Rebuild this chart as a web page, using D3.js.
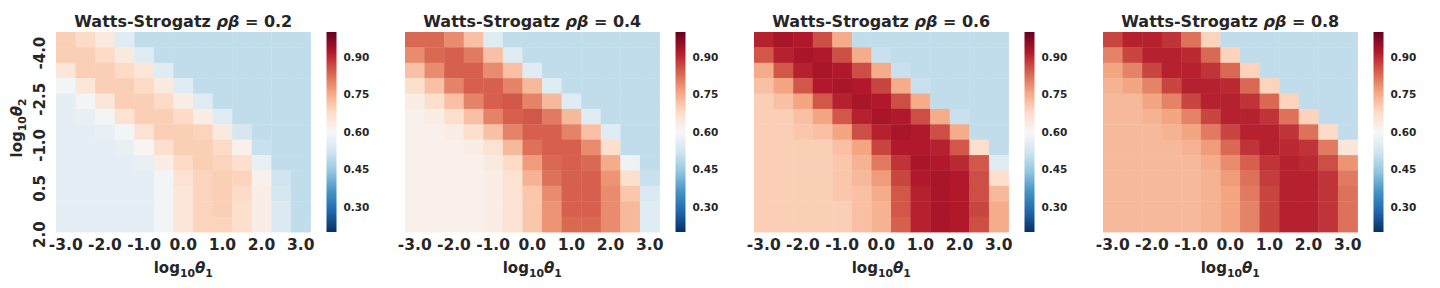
<!DOCTYPE html>
<html>
<head>
<meta charset="utf-8">
<script src="https://cdn.jsdelivr.net/npm/d3@7"></script>
<style>
  body { margin: 0; background: #fff; }
  svg { font-family: "DejaVu Sans", sans-serif; font-weight: bold; }
</style>
</head>
<body>
<svg id="chart" width="1440" height="288"></svg>
<script>
// grid axes (log10 theta1 along x, log10 theta2 down y)
const theta1 = [-3.0, -2.5, -2.0, -1.5, -1.0, -0.5, 0.0, 0.5, 1.0, 1.5, 2.0, 2.5, 3.0];
const theta2 = [-4.0, -3.5, -3.0, -2.5, -2.0, -1.5, -1.0, -0.5, 0.0, 0.5, 1.0, 1.5, 2.0];
const xTickLabels = [-3.0, -2.0, -1.0, 0.0, 1.0, 2.0, 3.0];
const yTickLabels = [-4.0, -2.5, -1.0, 0.5, 2.0];
const cbarTicks = [0.30, 0.45, 0.60, 0.75, 0.90];
const rhoBeta = ["0.2", "0.4", "0.6", "0.8"];

// rows = theta2, cols = theta1
const acc02 = [
  [0.70,0.68,0.64,0.55,0.50,0.50,0.50,0.50,0.50,0.50,0.50,0.50,0.50],
  [0.70,0.70,0.68,0.64,0.55,0.50,0.50,0.50,0.50,0.50,0.50,0.50,0.50],
  [0.65,0.70,0.70,0.68,0.65,0.55,0.50,0.50,0.50,0.50,0.50,0.50,0.50],
  [0.59,0.65,0.70,0.70,0.68,0.64,0.55,0.50,0.50,0.50,0.50,0.50,0.50],
  [0.56,0.59,0.65,0.70,0.70,0.68,0.63,0.55,0.50,0.50,0.50,0.50,0.50],
  [0.56,0.57,0.59,0.66,0.70,0.70,0.68,0.63,0.55,0.50,0.50,0.50,0.50],
  [0.56,0.56,0.57,0.59,0.66,0.70,0.70,0.69,0.64,0.53,0.50,0.50,0.50],
  [0.56,0.56,0.56,0.57,0.61,0.67,0.70,0.70,0.68,0.62,0.51,0.50,0.50],
  [0.56,0.56,0.56,0.56,0.57,0.63,0.68,0.70,0.69,0.67,0.57,0.50,0.50],
  [0.56,0.56,0.56,0.56,0.56,0.59,0.66,0.69,0.70,0.69,0.62,0.52,0.50],
  [0.56,0.56,0.56,0.56,0.56,0.59,0.65,0.69,0.70,0.68,0.63,0.53,0.50],
  [0.56,0.56,0.56,0.56,0.56,0.59,0.65,0.69,0.70,0.67,0.63,0.54,0.50],
  [0.56,0.56,0.56,0.56,0.56,0.59,0.65,0.69,0.69,0.67,0.63,0.54,0.50]
];
const acc04 = [
  [0.83,0.83,0.79,0.72,0.55,0.50,0.50,0.50,0.50,0.50,0.50,0.50,0.50],
  [0.79,0.83,0.84,0.81,0.72,0.55,0.50,0.50,0.50,0.50,0.50,0.50,0.50],
  [0.72,0.79,0.84,0.84,0.79,0.72,0.55,0.50,0.50,0.50,0.50,0.50,0.50],
  [0.67,0.72,0.80,0.84,0.84,0.80,0.73,0.55,0.50,0.50,0.50,0.50,0.50],
  [0.63,0.67,0.72,0.80,0.84,0.85,0.80,0.73,0.55,0.50,0.50,0.50,0.50],
  [0.62,0.63,0.67,0.72,0.80,0.84,0.85,0.81,0.73,0.55,0.50,0.50,0.50],
  [0.62,0.62,0.63,0.67,0.72,0.80,0.84,0.84,0.80,0.72,0.55,0.50,0.50],
  [0.62,0.62,0.62,0.63,0.66,0.73,0.82,0.84,0.84,0.79,0.67,0.50,0.50],
  [0.62,0.62,0.62,0.62,0.64,0.68,0.77,0.83,0.84,0.83,0.75,0.58,0.50],
  [0.62,0.62,0.62,0.62,0.63,0.66,0.74,0.82,0.84,0.84,0.78,0.67,0.51],
  [0.62,0.62,0.62,0.62,0.63,0.66,0.71,0.79,0.84,0.84,0.79,0.71,0.54],
  [0.62,0.62,0.62,0.62,0.63,0.66,0.71,0.78,0.84,0.84,0.79,0.73,0.55],
  [0.62,0.62,0.62,0.62,0.63,0.66,0.71,0.78,0.83,0.83,0.79,0.73,0.55]
];
const acc06 = [
  [0.91,0.93,0.92,0.86,0.75,0.50,0.50,0.50,0.50,0.50,0.50,0.50,0.50],
  [0.85,0.91,0.93,0.92,0.86,0.75,0.51,0.50,0.50,0.50,0.50,0.50,0.50],
  [0.75,0.85,0.91,0.93,0.92,0.86,0.75,0.51,0.50,0.50,0.50,0.50,0.50],
  [0.72,0.76,0.85,0.92,0.93,0.92,0.87,0.75,0.51,0.50,0.50,0.50,0.50],
  [0.70,0.72,0.76,0.85,0.91,0.93,0.92,0.86,0.75,0.50,0.50,0.50,0.50],
  [0.70,0.70,0.72,0.76,0.85,0.91,0.93,0.92,0.86,0.75,0.51,0.50,0.50],
  [0.70,0.70,0.71,0.72,0.76,0.86,0.91,0.93,0.92,0.86,0.75,0.50,0.50],
  [0.70,0.70,0.70,0.70,0.72,0.76,0.87,0.92,0.92,0.91,0.85,0.67,0.50],
  [0.70,0.70,0.70,0.70,0.71,0.74,0.81,0.89,0.93,0.92,0.90,0.85,0.55],
  [0.70,0.70,0.70,0.70,0.71,0.73,0.77,0.87,0.92,0.93,0.92,0.86,0.67],
  [0.70,0.70,0.70,0.70,0.71,0.72,0.75,0.85,0.91,0.93,0.92,0.86,0.73],
  [0.70,0.70,0.70,0.70,0.70,0.72,0.74,0.85,0.91,0.93,0.92,0.87,0.75],
  [0.70,0.70,0.70,0.70,0.70,0.72,0.74,0.84,0.91,0.93,0.92,0.86,0.75]
];
const acc08 = [
  [0.87,0.91,0.91,0.89,0.82,0.69,0.50,0.50,0.50,0.50,0.50,0.50,0.50],
  [0.80,0.87,0.91,0.91,0.90,0.83,0.69,0.50,0.50,0.50,0.50,0.50,0.50],
  [0.76,0.80,0.87,0.91,0.91,0.89,0.83,0.69,0.50,0.50,0.50,0.50,0.50],
  [0.74,0.76,0.80,0.87,0.91,0.91,0.90,0.83,0.69,0.50,0.50,0.50,0.50],
  [0.73,0.73,0.76,0.80,0.87,0.91,0.91,0.89,0.83,0.69,0.50,0.50,0.50],
  [0.73,0.73,0.74,0.76,0.80,0.87,0.91,0.91,0.89,0.82,0.69,0.50,0.50],
  [0.73,0.73,0.73,0.74,0.76,0.81,0.87,0.91,0.91,0.89,0.82,0.68,0.50],
  [0.73,0.73,0.73,0.73,0.74,0.77,0.83,0.89,0.91,0.90,0.89,0.81,0.65],
  [0.73,0.73,0.73,0.73,0.73,0.75,0.79,0.84,0.89,0.91,0.90,0.86,0.78],
  [0.73,0.73,0.73,0.73,0.73,0.74,0.77,0.82,0.88,0.91,0.91,0.89,0.81],
  [0.73,0.73,0.73,0.73,0.73,0.74,0.76,0.81,0.87,0.91,0.91,0.89,0.82],
  [0.73,0.73,0.73,0.73,0.73,0.74,0.76,0.80,0.87,0.91,0.91,0.89,0.82],
  [0.73,0.73,0.73,0.73,0.73,0.74,0.76,0.80,0.87,0.91,0.91,0.89,0.82]
];
const panels = [acc02, acc04, acc06, acc08];

const vmin = 0.2, vmax = 1.0;
const pitch = 349, plotLeft = 56, plotTop = 32, w = 254.5, h = 200;
const cbarGap = 16, cbarW = 10;
const textColor = "#262626";

// matplotlib RdBu_r: piecewise linear through the 11 scheme colours
const rdbu = d3.schemeRdBu[11].slice().reverse();
const color = d3.scaleLinear()
  .domain(d3.range(11).map(i => vmin + i * (vmax - vmin) / 10))
  .range(rdbu)
  .clamp(true);

const svg = d3.select("#chart");
const defs = svg.append("defs");
const grad = defs.append("linearGradient").attr("id", "cbar")
  .attr("x1", 0).attr("y1", 1).attr("x2", 0).attr("y2", 0);
rdbu.forEach((c, i) => grad.append("stop").attr("offset", i / 10).attr("stop-color", c));

const x = d3.scaleBand().domain(theta1).range([0, w]);
const y = d3.scaleBand().domain(theta2).range([0, h]);
const cy = d3.scaleLinear().domain([vmin, vmax]).range([h, 0]);

function logLabel(sel, sub) {
  sel.append("tspan").text("log");
  sel.append("tspan").attr("font-size", "0.72em").attr("dy", 4).text("10");
  sel.append("tspan").attr("font-style", "italic").attr("dy", -4).text("θ");
  sel.append("tspan").attr("font-size", "0.72em").attr("dy", 4).text(sub);
}

panels.forEach((grid, p) => {
  const g = svg.append("g").attr("transform", `translate(${plotLeft + p * pitch},${plotTop})`);

  const cells = [];
  grid.forEach((row, r) => row.forEach((v, c) => cells.push({ t1: theta1[c], t2: theta2[r], v })));

  g.selectAll("rect.cell").data(cells).enter().append("rect")
    .attr("class", "cell")
    .attr("x", d => x(d.t1))
    .attr("y", d => y(d.t2))
    .attr("width", x.bandwidth() + 0.4)
    .attr("height", y.bandwidth() + 0.4)
    .attr("fill", d => color(d.v));

  // title
  const title = g.append("text")
    .attr("x", w / 2).attr("y", -5)
    .attr("text-anchor", "middle")
    .attr("font-size", 16).attr("fill", textColor);
  title.append("tspan").text("Watts-Strogatz ");
  title.append("tspan").attr("font-style", "italic").text("ρβ");
  title.append("tspan").text(" = " + rhoBeta[p]);

  // x axis
  const xa = g.append("g").attr("transform", `translate(0,${h})`)
    .call(d3.axisBottom(x).tickValues(theta1.filter(d => xTickLabels.includes(d)))
      .tickSize(0).tickPadding(7).tickFormat(d => d.toFixed(1)));
  xa.select(".domain").remove();
  xa.selectAll("text").attr("font-size", 15.5).attr("fill", textColor)
    .attr("font-family", "DejaVu Sans").attr("font-weight", "bold");

  const xl = g.append("text")
    .attr("x", w / 2).attr("y", h + 41)
    .attr("text-anchor", "middle")
    .attr("font-size", 15).attr("fill", textColor);
  logLabel(xl, "1");

  // y axis only on the first panel
  if (p === 0) {
    const ya = g.append("g")
      .call(d3.axisLeft(y).tickValues(theta2.filter(d => yTickLabels.includes(d)))
        .tickSize(0).tickFormat(d => d.toFixed(1)));
    ya.select(".domain").remove();
    ya.selectAll("text")
      .attr("x", null).attr("dy", null)
      .attr("transform", "translate(-11,-3) rotate(-90)")
      .attr("text-anchor", "end")
      .attr("font-size", 15).attr("fill", textColor)
      .attr("font-family", "DejaVu Sans").attr("font-weight", "bold");

    const yl = g.append("text")
      .attr("transform", `translate(${-34},${h / 2 - 4}) rotate(-90)`)
      .attr("text-anchor", "middle")
      .attr("font-size", 15).attr("fill", textColor);
    logLabel(yl, "2");
  }

  // colour bar
  const cb = g.append("g").attr("transform", `translate(${w + cbarGap},0)`);
  cb.append("rect").attr("width", cbarW).attr("height", h).attr("fill", "url(#cbar)");
  const ca = cb.append("g").attr("transform", `translate(${cbarW},0)`)
    .call(d3.axisRight(cy).tickValues(cbarTicks).tickSize(0).tickPadding(7).tickFormat(d3.format(".2f")));
  ca.select(".domain").remove();
  ca.selectAll("text").attr("font-size", 10.5).attr("fill", textColor)
    .attr("font-family", "DejaVu Sans").attr("font-weight", "bold");
});
</script>
</body>
</html>
